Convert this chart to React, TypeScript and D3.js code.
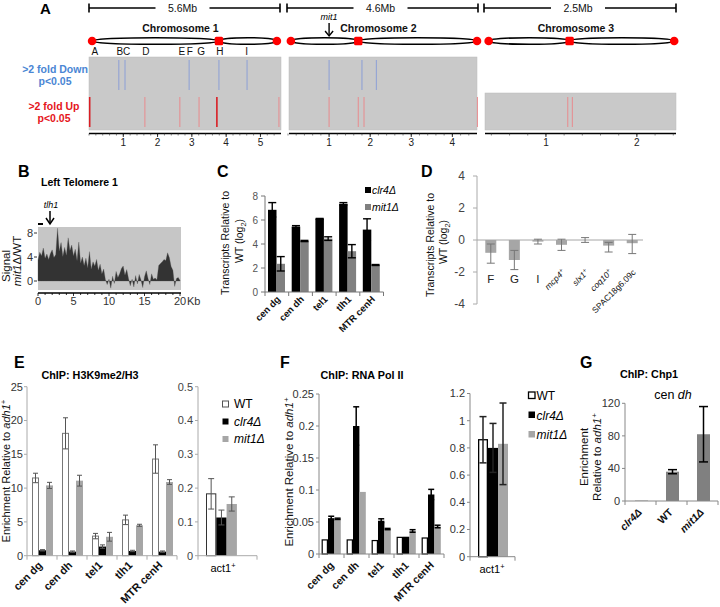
import React from "react";
import * as d3 from "d3";

const FONT = "'Liberation Sans', Arial, Helvetica, sans-serif";

// ---------------- Panel A data ----------------
const chrNames = ["Chromosome 1", "Chromosome 2", "Chromosome 3"];
const chrSizeLabels = ["5.6Mb", "4.6Mb", "2.5Mb"];
const chrDomains: [number, number][] = [[0, 5.6], [0, 4.6], [0.33, 2.43]];
const chrStarts = [0.09, 0.07, 0.37];
const chrCentromeres = [3.79, 1.71, 1.26];
const chrEnds = [5.48, 4.6, 2.41];
const chrTicks = [[1, 2, 3, 4, 5], [1, 2, 3, 4], [1, 2]];
const chr1Letters = ["A", "B", "C", "D", "E", "F", "G", "H", "I"];
const chr1LetterMb = [0.17, 0.9, 1.1, 1.66, 2.71, 2.94, 3.27, 3.82, 4.6];
const downMb = [[0.87, 1.05, 2.92, 3.79, 4.61], [1.0, 1.8, 2.15], []];
const upMb = [[0.02, 1.63, 2.65, 3.21, 3.73, 5.54], [1.0, 1.71, 1.85, 4.61], [1.24, 1.29]];
const upStrong = [[true, false, false, false, true, false], [false, false, false, false], [false, false]];
const mit1Mb = 1.0;

// ---------------- Panel B data ----------------
const bStepKb = 0.25;
const bSignal = [
  3.5, 4.8, 4.2, 5.5, 3.8, 4.5, 3.6, 4.6, 5.2, 3.9, 4.4, 8.8, 5.0, 6.4, 4.1, 5.6,
  4.3, 7.2, 5.1, 6.0, 4.2, 5.3, 3.4, 6.5, 3.0, 4.0, 2.6, 3.8, 2.2, 4.9, 2.0, 3.2,
  2.5, 3.6, 1.8, 2.8, 1.2, 2.0, 0.2, -0.6, 0.3, -1.2, 0.8, -0.4, 1.6, 0.6, 1.2, 2.1,
  2.5, 1.0, 1.9, 0.4, -0.8, 0.3, -1.0, 0.9, -0.5, 1.1, 0.2, -1.1, 0.7, 1.7, 0.4, -0.6,
  1.2, 0.3, 0.5, 0.2, 2.6, 2.9, 3.2, 3.6, 3.4, 4.7, 3.9, 2.4, 1.8, -0.9, 0.4, 0.6, 0.1,
];
const bYTicks = [0, 4, 8];
const bXTicks = [0, 5, 10, 15, 20];

// ---------------- Panel C data ----------------
const cCats = ["cen dg", "cen dh", "tel1", "tlh1", "MTR cenH"];
const cClr4 = [6.85, 5.45, 6.1, 7.35, 5.2];
const cClr4Err = [0.6, 0.08, 0.03, 0.1, 0.9];
const cMit1 = [2.35, 4.25, 4.45, 3.4, 2.25];
const cMit1Err = [0.6, 0.05, 0.15, 0.55, 0.04];
const cTicks = [0, 2, 4, 6, 8];

// ---------------- Panel D data ----------------
const dCats = ["F", "G", "I", "mcp4", "slx1", "coq10", "SPAC18g6.09c"];
const dVals = [-0.8, -1.25, -0.1, -0.3, 0.0, -0.35, -0.2];
const dHi = [-0.25, -0.65, 0.05, 0.05, 0.15, -0.15, 0.35];
const dLo = [-1.45, -1.85, -0.25, -0.65, -0.15, -0.75, -0.85];
const dTicks = [-4, -2, 0, 2, 4];

// ---------------- Panel E data ----------------
const eCats = ["cen dg", "cen dh", "tel1", "tlh1", "MTR cenH"];
const eWT = [11.5, 18.1, 2.9, 5.3, 14.3];
const eWTErr = [0.7, 2.3, 0.4, 0.7, 2.1];
const eClr4 = [0.8, 0.6, 1.35, 0.7, 0.6];
const eClr4Err = [0.1, 0.1, 0.25, 0.1, 0.1];
const eMit1 = [10.4, 11.1, 2.8, 4.5, 10.9];
const eMit1Err = [0.45, 0.8, 0.65, 0.15, 0.35];
const eTicks = [0, 5, 10, 15, 20, 25];
const eAct1 = [0.183, 0.113, 0.153];
const eAct1Err = [0.045, 0.022, 0.021];
const eAct1Ticks = [0, 0.1, 0.2, 0.3, 0.4, 0.5];

// ---------------- Panel F data ----------------
const fCats = ["cen dg", "cen dh", "tel1", "tlh1", "MTR cenH"];
const fWT = [0.022, 0.022, 0.021, 0.026, 0.025];
const fWTErr = [0, 0, 0, 0, 0];
const fClr4 = [0.056, 0.2, 0.052, 0.027, 0.093];
const fClr4Err = [0.003, 0.03, 0.003, 0.0, 0.008];
const fMit1 = [0.055, 0.097, 0.039, 0.036, 0.043];
const fMit1Err = [0.001, 0.0, 0.001, 0.002, 0.002];
const fTicks = [0, 0.05, 0.1, 0.15, 0.2, 0.25];
const fAct1 = [0.86, 0.8, 0.83];
const fAct1Err = [0.17, 0.18, 0.3];
const fAct1Ticks = [0, 0.2, 0.4, 0.6, 0.8, 1, 1.2];

// ---------------- Panel G data ----------------
const gCats = ["clr4Δ", "WT", "mit1Δ"];
const gVals = [0.5, 36, 82];
const gErr = [0, 2.5, 34];
const gTicks = [0, 40, 80, 120];

const strains = ["WT", "clr4Δ", "mit1Δ"];

type Lin = d3.ScaleLinear<number, number>;
type Band = d3.ScaleBand<string>;

function LeftAxis(p: {
  x: number; y: Lin; ticks: number[]; fmt?: (v: number) => string; tickLen?: number;
  fontSize?: number; color?: string; lineColor?: string; gap?: number; sw?: number;
}) {
  const { x, y, ticks, fmt = (v: number) => String(v), tickLen = 4, fontSize = 10.5,
    color = "#333", lineColor = "#888", gap = 3, sw = 1 } = p;
  const [d0, d1] = y.domain();
  return (
    <g>
      <line x1={x} x2={x} y1={y(d0)} y2={y(d1)} stroke={lineColor} strokeWidth={sw} />
      {ticks.map((t) => (
        <g key={t}>
          <line x1={x - tickLen} x2={x} y1={y(t)} y2={y(t)} stroke={lineColor} strokeWidth={sw} />
          <text x={x - tickLen - gap} y={y(t)} dy="0.35em" textAnchor="end" fontSize={fontSize} fill={color}>
            {fmt(t)}
          </text>
        </g>
      ))}
    </g>
  );
}

function CatAxis(p: { band: Band; y: number; lineColor?: string; tickLen?: number; sw?: number }) {
  const { band, y, lineColor = "#888", tickLen = 4, sw = 1 } = p;
  const [r0, r1] = band.range();
  const edges = band.domain().map((c) => band(c) as number).concat([r1]);
  return (
    <g stroke={lineColor} strokeWidth={sw}>
      <line x1={r0} x2={r1} y1={y} y2={y} />
      {edges.map((e, i) => <line key={i} x1={e} x2={e} y1={y} y2={y + tickLen} />)}
    </g>
  );
}

type Series = { vals: number[]; hi: number[]; lo: number[]; fill: string; stroke?: string; strokeW?: number };

function GBars(p: {
  band: Band; y: Lin; series: Series[]; pad: number; bw: number; errColor: string;
  errW: number; capW: number;
}) {
  const { band, y, series, pad, bw, errColor, errW, capW } = p;
  const cats = band.domain();
  const bars: any[] = [];
  const errs: any[] = [];
  series.forEach((s, si) => {
    cats.forEach((c, i) => {
      const bx = (band(c) as number) + pad + si * bw;
      const v = s.vals[i];
      const y0 = y(0), yv = y(v);
      const sw = s.strokeW || 0;
      bars.push(
        <rect key={`b${si}-${i}`} x={bx + sw / 2} y={Math.min(y0, yv)} width={bw - sw}
          height={Math.max(0.01, Math.abs(y0 - yv))} fill={s.fill}
          stroke={s.stroke || "none"} strokeWidth={sw} />
      );
      const cx = bx + bw / 2;
      const yh = y(s.hi[i]), yl = y(s.lo[i]);
      if (Math.abs(yh - yl) > 0.2) {
        errs.push(
          <g key={`e${si}-${i}`} stroke={errColor} strokeWidth={errW}>
            <line x1={cx} x2={cx} y1={yh} y2={yl} />
            <line x1={cx - capW / 2} x2={cx + capW / 2} y1={yh} y2={yh} />
            <line x1={cx - capW / 2} x2={cx + capW / 2} y1={yl} y2={yl} />
          </g>
        );
      }
    });
  });
  return <g>{bars}{errs}</g>;
}

const plus = (v: number[], e: number[]) => v.map((x, i) => x + e[i]);
const minus = (v: number[], e: number[]) => v.map((x, i) => x - e[i]);

const R45 = 0.70710678;

function RotLabel(p: { x: number; y: number; children: any; size: number; bold?: boolean; italic?: boolean }) {
  return (
    <g transform={`matrix(${R45} ${-R45} ${R45} ${R45} ${p.x} ${p.y})`}>
      <text x={0} y={0} textAnchor="end" fontSize={p.size}
        fontWeight={p.bold ? "bold" : "normal"} fontStyle={p.italic ? "italic" : "normal"} fill="#111">
        {p.children}
      </text>
    </g>
  );
}

function VLabel(p: { x: number; y: number; size: number; children: any }) {
  return (
    <g transform={`translate(${p.x} ${p.y}) rotate(-90)`}>
      <text x={0} y={0} textAnchor="middle" fontSize={p.size} fill="#111">
        {p.children}
      </text>
    </g>
  );
}

function PanelA() {
  const ranges: [number, number][] = [[89, 281], [288, 477], [485, 676]];
  const scales = chrDomains.map((d, i) => d3.scaleLinear().domain(d).range(ranges[i]));
  const barRanges = [[89, 280], [287, 478], [484, 676]];
  const trackTop = 57, trackMid = 93, trackBot = 130;
  return (
    <g>
      <text x={40} y={14} fontSize={15} fontWeight="bold">A</text>
      {barRanges.map(([a, b], i) => {
        const mid = (a + b) / 2 - 2;
        return (
          <g key={i} stroke="#000" strokeWidth={1.6}>
            <line x1={a} x2={mid - 27} y1={8} y2={8} />
            <line x1={mid + 27} x2={b} y1={8} y2={8} />
            <line x1={a} x2={a} y1={3.5} y2={12.5} />
            <line x1={b} x2={b} y1={3.5} y2={12.5} />
            <text x={mid} y={12} stroke="none" fill="#111" fontSize={10.5} textAnchor="middle">{chrSizeLabels[i]}</text>
            <text x={mid - 2} y={31.5} stroke="none" fill="#111" fontSize={10.5} fontWeight="bold" textAnchor="middle">{chrNames[i]}</text>
          </g>
        );
      })}
      {scales.map((s, i) => {
        const xs = s(chrStarts[i]), xc = s(chrCentromeres[i]), xe = s(chrEnds[i]);
        const cy = 41;
        return (
          <g key={i}>
            <ellipse cx={(xs + xc) / 2} cy={cy} rx={(xc - xs) / 2} ry={3.3} fill="#fff" stroke="#000" strokeWidth={1.4} />
            <ellipse cx={(xc + xe) / 2} cy={cy} rx={(xe - xc) / 2} ry={3.3} fill="#fff" stroke="#000" strokeWidth={1.4} />
            <circle cx={xs} cy={cy} r={4.3} fill="#f00" />
            <circle cx={xe} cy={cy} r={4.3} fill="#f00" />
            <rect x={xc - 4.2} y={cy - 4.2} width={8.4} height={8.4} rx={1.5} fill="#f00" />
          </g>
        );
      })}
      <g>
        <text x={scales[1](mit1Mb)} y={20} fontSize={9} fontStyle="italic" textAnchor="middle">mit1</text>
        <line x1={scales[1](mit1Mb)} x2={scales[1](mit1Mb)} y1={23} y2={35} stroke="#000" strokeWidth={1.4} />
        <path d={`M${scales[1](mit1Mb) - 4},${31} L${scales[1](mit1Mb)},${36} L${scales[1](mit1Mb) + 4},${31}`} fill="none" stroke="#000" strokeWidth={1.4} />
      </g>
      {chr1Letters.map((l, i) => (
        <text key={l} x={scales[0](chr1LetterMb[i])} y={55} fontSize={10} textAnchor="middle" fill="#111">{l}</text>
      ))}
      <g fontWeight="bold" fontSize={10.5} textAnchor="middle">
        <text x={55} y={73} fill="#4a86d4">&gt;2 fold Down</text>
        <text x={55} y={85} fill="#4a86d4">p&lt;0.05</text>
        <text x={54} y={110} fill="#e5151b">&gt;2 fold Up</text>
        <text x={54} y={122} fill="#e5151b">p&lt;0.05</text>
      </g>
      {scales.map((s, i) => {
        const [d0, d1] = chrDomains[i];
        const x0 = s(d0) + (i === 1 ? 1 : 0), x1 = s(d1);
        const top = i === 2 ? trackMid : trackTop;
        return (
          <g key={i}>
            <rect x={x0} y={top} width={x1 - x0} height={trackBot - top} fill="#c9c9c9" stroke="#bdbdbd" strokeWidth={0.5} />
            {downMb[i].map((m, j) => (
              <line key={`d${j}`} x1={s(m)} x2={s(m)} y1={trackTop + 3} y2={trackMid - 3} stroke="#8c9fd6" strokeWidth={1} />
            ))}
            {upMb[i].map((m, j) => (
              <line key={`u${j}`} x1={s(m)} x2={s(m)} y1={trackMid + 4} y2={trackBot - 3}
                stroke={upStrong[i][j] ? "#d81e24" : "#e88a8d"} strokeWidth={upStrong[i][j] ? 1.6 : 1} />
            ))}
            <line x1={x0} x2={x1} y1={133.5} y2={133.5} stroke="#000" strokeWidth={1.3} />
            {d3.range(Math.ceil(d0 * 5) / 5, d1, 0.2).map((t, j) => (
              <line key={`m${j}`} x1={s(t)} x2={s(t)} y1={133.5} y2={135.5} stroke="#333" strokeWidth={0.6} />
            ))}
            {chrTicks[i].map((t) => (
              <g key={t}>
                <line x1={s(t)} x2={s(t)} y1={133.5} y2={137} stroke="#000" strokeWidth={0.8} />
                <text x={s(t)} y={146} fontSize={10} textAnchor="middle" fill="#222">{t}</text>
              </g>
            ))}
          </g>
        );
      })}
    </g>
  );
}

function PanelB() {
  const x = d3.scaleLinear().domain([0, 20]).range([38, 180]);
  const y = d3.scaleLinear().domain([0, 8]).range([281, 233]);
  const pts: [number, number][] = bSignal.map((v, i) => [i * bStepKb, v]);
  const area = d3.area<[number, number]>().x((d) => x(d[0])).y0(y(0)).y1((d) => y(d[1]));
  return (
    <g>
      <text x={18} y={177} fontSize={16} fontWeight="bold">B</text>
      <text x={41} y={186} fontSize={10.5} fontWeight="bold">Left Telomere 1</text>
      <text x={51} y={208} fontSize={9} fontStyle="italic" textAnchor="middle">tlh1</text>
      <line x1={50} x2={50} y1={211} y2={223} stroke="#000" strokeWidth={1.5} />
      <path d="M46,218 L50,224 L54,218" fill="none" stroke="#000" strokeWidth={1.5} />
      <rect x={38} y={223} width={5} height={2} fill="#000" />
      <rect x={38} y={227} width={143} height={63} fill="#c6c6c6" />
      <path d={area(pts) || ""} fill="#333" stroke="#555" strokeWidth={0.3} />
      {bYTicks.map((t) => (
        <g key={t}>
          <line x1={34} x2={37} y1={y(t)} y2={y(t)} stroke="#333" />
          <text x={33} y={y(t)} dy="0.35em" textAnchor="end" fontSize={11} fill="#333">{t}</text>
        </g>
      ))}
      <line x1={38} x2={181} y1={293} y2={293} stroke="#000" strokeWidth={1.5} />
      {d3.range(0, 21, 1).map((t) => (
        <line key={t} x1={x(t)} x2={x(t)} y1={293} y2={t % 5 === 0 ? 296 : 295} stroke="#000" strokeWidth={0.8} />
      ))}
      {bXTicks.map((t) => (
        <text key={t} x={x(t)} y={305} fontSize={11} textAnchor="middle" fill="#333">{t}</text>
      ))}
      <text x={187} y={305} fontSize={11} fill="#333">Kb</text>
      <VLabel x={10} y={266} size={11.5}>Signal</VLabel>
      <VLabel x={21} y={261} size={11.5}><tspan fontStyle="italic">mit1</tspan>Δ/WT</VLabel>
    </g>
  );
}

function PanelC() {
  const x = d3.scaleBand().domain(cCats).range([265, 383.5]);
  const y = d3.scaleLinear().domain([0, 8]).range([292, 196]);
  return (
    <g>
      <text x={217} y={177} fontSize={16} fontWeight="bold">C</text>
      <VLabel x={229} y={243} size={10.5}>Transcripts Relative to</VLabel>
      <VLabel x={243} y={241} size={10.5}>WT (log<tspan dy={3} fontSize={7.5}>2</tspan><tspan dy={-3}>)</tspan></VLabel>
      <GBars band={x} y={y} pad={3} bw={8.5} errColor="#000" errW={1.4} capW={8}
        series={[
          { vals: cClr4, hi: plus(cClr4, cClr4Err), lo: minus(cClr4, cClr4Err), fill: "#000" },
          { vals: cMit1, hi: plus(cMit1, cMit1Err), lo: minus(cMit1, cMit1Err), fill: "#808080" },
        ]} />
      <LeftAxis x={265} y={y} ticks={cTicks} fontSize={10} color="#555" lineColor="#777" />
      <CatAxis band={x} y={292} lineColor="#777" />
      {cCats.map((c) => (
        <RotLabel key={c} x={(x(c) as number) + x.bandwidth() / 2 + 4} y={300} size={9.5} bold>{c}</RotLabel>
      ))}
      <rect x={365} y={187} width={6} height={6} fill="#000" />
      <text x={372} y={194} fontSize={10.5} fontStyle="italic">clr4Δ</text>
      <rect x={365} y={204} width={6} height={6} fill="#808080" />
      <text x={372} y={211} fontSize={10.5} fontStyle="italic">mit1Δ</text>
    </g>
  );
}

function PanelD() {
  const x = d3.scaleBand().domain(dCats).range([479, 644]);
  const y = d3.scaleLinear().domain([-4, 4]).range([304, 176]);
  const cx = (c: string) => (x(c) as number) + x.bandwidth() / 2;
  const sup = (c: string) => (c === "mcp4" || c === "slx1" || c === "coq10");
  return (
    <g>
      <text x={421} y={177} fontSize={16} fontWeight="bold">D</text>
      <VLabel x={434} y={245} size={10.5}>Transcripts Relative to</VLabel>
      <VLabel x={447} y={242} size={10.5}>WT (log<tspan dy={3} fontSize={7.5}>2</tspan><tspan dy={-3}>)</tspan></VLabel>
      <LeftAxis x={477} y={y} ticks={dTicks} fontSize={12} color="#444" lineColor="#aaa" tickLen={4} gap={8} />
      <line x1={477} x2={643} y1={y(0)} y2={y(0)} stroke="#a6a6a6" strokeWidth={1} />
      <GBars band={x} y={y} pad={(x.bandwidth() - 11) / 2} bw={11} errColor="#777" errW={1} capW={8}
        series={[{ vals: dVals, hi: dHi, lo: dLo, fill: "#a6a6a6" }]} />
      {dCats.map((c, i) =>
        i < 3 ? (
          <text key={c} x={cx(c)} y={283} fontSize={11.5} textAnchor="middle" fill="#222">{c}</text>
        ) : (
          <RotLabel key={c} x={cx(c) + 4} y={273} size={8.5} italic={sup(c)}>
            {c}{sup(c) ? <tspan dy={-3} fontSize={6}>+</tspan> : null}
          </RotLabel>
        )
      )}
    </g>
  );
}

function PanelE() {
  const x = d3.scaleBand().domain(eCats).range([27, 177]);
  const y = d3.scaleLinear().domain([0, 25]).range([555.7, 386.7]);
  const xr = d3.scaleBand().domain(["act1"]).range([198, 257]);
  const yr = d3.scaleLinear().domain([0, 0.5]).range([555.7, 386.7]);
  const eFills = ["#fff", "#000", "#a6a6a6"];
  return (
    <g>
      <text x={14} y={368} fontSize={16} fontWeight="bold">E</text>
      <text x={90} y={379} fontSize={10.8} fontWeight="bold" textAnchor="middle">ChIP: H3K9me2/H3</text>
      <VLabel x={10} y={471} size={11}>
        Enrichment Relative to <tspan fontStyle="italic">adh1</tspan><tspan dy={-4} fontSize={8}>+</tspan>
      </VLabel>
      <GBars band={x} y={y} pad={5} bw={7} errColor="#555" errW={1} capW={5}
        series={[
          { vals: eWT, hi: plus(eWT, eWTErr), lo: minus(eWT, eWTErr), fill: "#fff", stroke: "#777", strokeW: 1 },
          { vals: eClr4, hi: plus(eClr4, eClr4Err), lo: minus(eClr4, eClr4Err), fill: "#000" },
          { vals: eMit1, hi: plus(eMit1, eMit1Err), lo: minus(eMit1, eMit1Err), fill: "#a6a6a6" },
        ]} />
      <LeftAxis x={27} y={y} ticks={eTicks} fontSize={11} color="#333" lineColor="#aaa" tickLen={3} gap={1} />
      <CatAxis band={x} y={555.7} lineColor="#aaa" />
      {eCats.map((c) => (
        <RotLabel key={c} x={(x(c) as number) + x.bandwidth() / 2 + 1} y={566} size={11} bold>{c}</RotLabel>
      ))}
      <GBars band={xr} y={yr} pad={8} bw={10.3} errColor="#555" errW={1} capW={6}
        series={eAct1.map((v, i) => ({
          vals: [v], hi: [v + eAct1Err[i]], lo: [v - eAct1Err[i]], fill: eFills[i],
          stroke: i === 0 ? "#333" : undefined, strokeW: i === 0 ? 1 : 0,
        }))} />
      <LeftAxis x={198} y={yr} ticks={eAct1Ticks} fontSize={11} color="#444" lineColor="#aaa" tickLen={3} gap={2} />
      <CatAxis band={xr} y={555.7} lineColor="#aaa" />
      <text x={223} y={572} fontSize={11} textAnchor="middle">act1<tspan dy={-4} fontSize={7.5}>+</tspan></text>
      {strains.map((s, i) => (
        <g key={s}>
          <rect x={222.5} y={401 + i * 17.5} width={6} height={6} fill={eFills[i]} stroke={i === 0 ? "#555" : "none"} strokeWidth={1} />
          <text x={234} y={408 + i * 17.5} fontSize={12} fontStyle={i === 0 ? "normal" : "italic"}>{s}</text>
        </g>
      ))}
    </g>
  );
}

function PanelF() {
  const x = d3.scaleBand().domain(fCats).range([319, 444]);
  const y = d3.scaleLinear().domain([0, 0.25]).range([554, 394]);
  const xr = d3.scaleBand().domain(["act1"]).range([470, 515]);
  const yr = d3.scaleLinear().domain([0, 1.2]).range([556.7, 393.5]);
  const fFills = ["#fff", "#000", "#a6a6a6"];
  return (
    <g>
      <text x={280} y={368} fontSize={16} fontWeight="bold">F</text>
      <text x={362} y={379} fontSize={10.8} fontWeight="bold" textAnchor="middle">ChIP: RNA Pol II</text>
      <VLabel x={293} y={472} size={11.5}>
        Enrichment Relative to <tspan fontStyle="italic">adh1</tspan><tspan dy={-4} fontSize={8}>+</tspan>
      </VLabel>
      <GBars band={x} y={y} pad={2.6} bw={6.4} errColor="#000" errW={1.5} capW={6}
        series={[
          { vals: fWT, hi: plus(fWT, fWTErr), lo: minus(fWT, fWTErr), fill: "#fff", stroke: "#000", strokeW: 1.2 },
          { vals: fClr4, hi: plus(fClr4, fClr4Err), lo: minus(fClr4, fClr4Err), fill: "#000" },
          { vals: fMit1, hi: plus(fMit1, fMit1Err), lo: minus(fMit1, fMit1Err), fill: "#a6a6a6" },
        ]} />
      <LeftAxis x={319} y={y} ticks={fTicks} fontSize={11} color="#333" lineColor="#888" tickLen={3} gap={2} />
      <CatAxis band={x} y={554} lineColor="#888" />
      {fCats.map((c) => (
        <RotLabel key={c} x={(x(c) as number) + x.bandwidth() / 2 + 3} y={566} size={10.5} bold>{c}</RotLabel>
      ))}
      <GBars band={xr} y={yr} pad={8} bw={10} errColor="#222" errW={1.5} capW={7}
        series={fAct1.map((v, i) => ({
          vals: [v], hi: [v + fAct1Err[i]], lo: [v - fAct1Err[i]], fill: fFills[i],
          stroke: i === 0 ? "#000" : undefined, strokeW: i === 0 ? 1.3 : 0,
        }))} />
      <LeftAxis x={470} y={yr} ticks={fAct1Ticks} fontSize={11} color="#333" lineColor="#888" tickLen={3} gap={2} />
      <CatAxis band={xr} y={556.7} lineColor="#888" />
      <text x={492} y={573} fontSize={11} textAnchor="middle">act1<tspan dy={-4} fontSize={7.5}>+</tspan></text>
      {strains.map((s, i) => (
        <g key={s}>
          <rect x={528.5} y={392 + i * 19.5} width={6.5} height={6.5} fill={fFills[i]} stroke={i === 0 ? "#000" : "none"} strokeWidth={1.3} />
          <text x={536.5} y={400 + i * 19.5} fontSize={12} fontStyle={i === 0 ? "normal" : "italic"}>{s}</text>
        </g>
      ))}
    </g>
  );
}

function PanelG() {
  const x = d3.scaleBand().domain(gCats).range([625, 718]);
  const y = d3.scaleLinear().domain([0, 120]).range([501, 403.3]);
  return (
    <g>
      <text x={580} y={368} fontSize={16} fontWeight="bold">G</text>
      <text x={649} y={378} fontSize={10.8} fontWeight="bold" textAnchor="middle">ChIP: Chp1</text>
      <text x={673} y={399} fontSize={12.5} textAnchor="middle">cen <tspan fontStyle="italic">dh</tspan></text>
      <VLabel x={588} y={457} size={11.5}>Enrichment</VLabel>
      <VLabel x={601} y={457} size={11.5}>
        Relative to <tspan fontStyle="italic">adh1</tspan><tspan dy={-4} fontSize={8}>+</tspan>
      </VLabel>
      <GBars band={x} y={y} pad={10} bw={13} errColor="#000" errW={1.5} capW={9}
        series={[{ vals: gVals, hi: plus(gVals, gErr), lo: minus(gVals, gErr), fill: "#808080" }]} />
      <LeftAxis x={625} y={y} ticks={gTicks} fontSize={11} color="#333" lineColor="#888" tickLen={3} gap={2} />
      <CatAxis band={x} y={501} lineColor="#888" />
      {gCats.map((c) => (
        <RotLabel key={c} x={(x(c) as number) + x.bandwidth() / 2 + 2} y={513} size={10.5} bold italic={c !== "WT"}>{c}</RotLabel>
      ))}
    </g>
  );
}

export default function App() {
  return (
    <svg width={720} height={607} viewBox="0 0 720 607"
      style={{ position: "absolute", left: 0, top: 0, background: "#fff" }} fontFamily={FONT}>
      <rect x={0} y={0} width={720} height={607} fill="#fff" />
      <PanelA />
      <PanelB />
      <PanelC />
      <PanelD />
      <PanelE />
      <PanelF />
      <PanelG />
    </svg>
  );
}
